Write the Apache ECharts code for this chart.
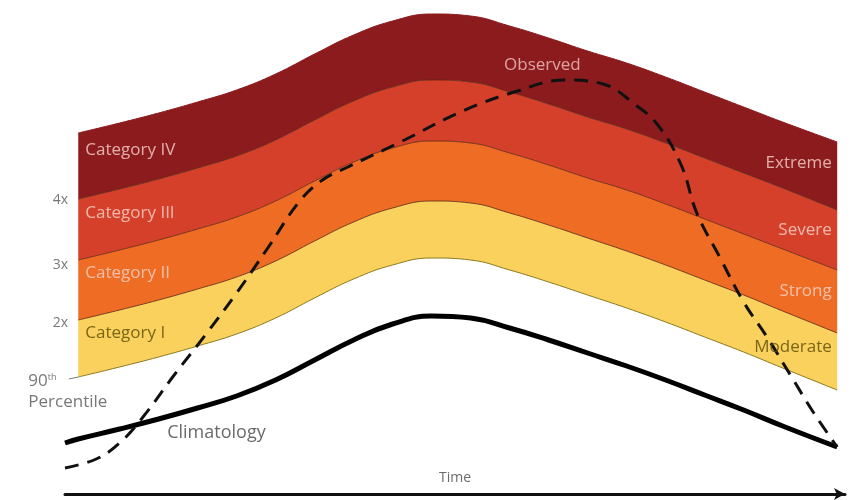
<!DOCTYPE html>
<html><head><meta charset="utf-8">
<script src="https://cdn.jsdelivr.net/npm/echarts@6/dist/echarts.min.js"></script>
<style>html,body{margin:0;padding:0;background:#fff}#c{width:853px;height:500px}</style>
</head><body><div id="c"></div>
<script>
// x: time (days since start), y: temperature (arbitrary units)
const days = [1.7, 7, 12, 17, 22, 27, 32, 37, 42, 47, 52, 57, 62, 67, 72, 77, 82, 87, 92, 99];
const climDays = [0, 1.7, 7, 12, 17, 22, 27, 32, 37, 42, 47, 52, 57, 62, 67, 72, 77, 82, 87, 92, 99];
const climatology = [5.1, 5.5, 6.5, 7.5, 8.6, 9.8, 11.4, 13.4, 15.4, 17.0, 17.8, 17.6, 16.6, 15.4, 14.1, 12.8, 11.4, 9.9, 8.4, 6.8, 4.7];
const p90 = [11.7, 12.7, 13.7, 14.8, 16.0, 17.6, 19.6, 21.5, 22.9, 23.6, 23.4, 22.4, 21.2, 19.9, 18.6, 17.2, 15.7, 14.2, 12.6, 10.4];
const x2  = [17.4, 18.4, 19.4, 20.5, 21.7, 23.3, 25.3, 27.2, 28.6, 29.3, 29.1, 28.1, 26.9, 25.6, 24.3, 22.9, 21.4, 19.9, 18.3, 16.1];
const x3  = [23.4, 24.4, 25.4, 26.5, 27.7, 29.3, 31.3, 33.2, 34.6, 35.3, 35.1, 34.1, 32.9, 31.6, 30.4, 29.0, 27.5, 26.0, 24.5, 22.4];
const x4  = [29.5, 30.5, 31.5, 32.6, 33.8, 35.4, 37.4, 39.3, 40.7, 41.4, 41.2, 40.2, 39.0, 37.7, 36.5, 35.1, 33.6, 32.1, 30.6, 28.4];
const x5  = [36.1, 37.1, 38.1, 39.2, 40.4, 42.0, 44.0, 45.9, 47.3, 48.0, 47.8, 46.8, 45.6, 44.3, 43.1, 41.7, 40.2, 38.7, 37.2, 35.2];
const obsDays = [0, 4, 7, 10, 14, 18, 22, 26, 30, 33, 36, 43, 51, 58, 64, 69, 73, 76, 79, 81, 84, 87, 90, 93, 96, 99];
const observed = [2.6, 3.5, 5.1, 7.7, 11.9, 15.9, 20.1, 24.6, 29.2, 31.4, 32.6, 35.2, 38.3, 40.3, 41.4, 41.0, 39.0, 36.9, 32.9, 28.1, 23.6, 19.2, 15.7, 11.9, 8.1, 4.7];

const leftCategories = ['Category IV', 'Category III', 'Category II', 'Category I'];
const leftCatPos = [[2.6, 34.4], [2.6, 28.1], [2.6, 22.1], [2.6, 16.1]];
const rightCategories = ['Extreme', 'Severe', 'Strong', 'Moderate'];
const rightCatPos = [[98.3, 33.1], [98.3, 26.4], [98.3, 20.3], [98.3, 14.7]];
const thresholdLabels = ['4x', '3x', '2x'];
const thresholdPos = [[0.4, 29.4], [0.4, 22.9], [0.4, 17.1]];

const T0 = Date.UTC(2000, 0, 1);
const DAY = 86400000;
const t = d => T0 + d * DAY;

const C = { dred: '#8c1b1e', red: '#d5402b', orange: '#ee6c23', yellow: '#f9d15c' };
const lightTxt = '#f6d3cb';
const oliveTxt = '#5a4a08';
const font = '"Open Sans", "Noto Sans", sans-serif';

const pairs = (xs, ys) => ys.map((v, i) => [t(xs[i]), v]);
const diff = (a, b) => a.map((v, i) => +(v - b[i]).toFixed(3));

function txt(name, value, pos, color, size) {
  return { name, value: [t(value[0]), value[1]], label: { show: true, formatter: '{b}', position: pos, distance: 0,
    color, fontSize: size, fontFamily: font } };
}

const ann = [];
leftCategories.forEach((s, i) => ann.push(txt(s, leftCatPos[i], 'right', i === 3 ? oliveTxt : lightTxt, 17)));
rightCategories.forEach((s, i) => ann.push(txt(s, rightCatPos[i], 'left', i === 3 ? oliveTxt : lightTxt, 17)));
thresholdLabels.forEach((s, i) => ann.push(txt(s, thresholdPos[i], 'left', '#555', 14)));
ann.push(txt('Observed', [61.2, 42.9], 'inside', '#f0c4c4', 17));
ann.push(txt('Climatology', [13.1, 6.1], 'right', '#444', 18));
ann.push(txt('Time', [50, 1.6], 'inside', '#444', 14));
ann.push({ name: 'p', value: [t(-4.7), 10.2], label: { show: true, position: 'right', distance: 0,
  formatter: '{a|90}{s|th}\n{a|Percentile}',
  rich: { a: { fontSize: 17, color: '#555', fontFamily: font, lineHeight: 21 },
          s: { fontSize: 9, color: '#555', fontFamily: font, padding: [0, 0, 9, 0] } } } });

const bandLine = { width: 1, color: '#5c2410', opacity: 0.8 };
const smooth = 0.45;
function band(values, fill, line) {
  return { type: 'line', stack: 'bands', data: pairs(days, values), smooth, symbol: 'none',
    lineStyle: line, areaStyle: { color: fill, opacity: 1 } };
}

const option = {
  animation: false,
  grid: { left: 65, right: 8, top: 4, bottom: 6 },
  xAxis: { type: 'time', min: t(0), max: t(100), z: 10,
    axisLine: { show: true, symbol: ['none', 'arrow'], symbolSize: [9, 11], lineStyle: { color: '#111', width: 3 } },
    axisTick: { show: false }, axisLabel: { show: false }, splitLine: { show: false } },
  yAxis: { type: 'value', min: 0, max: 49, axisLine: { show: false }, axisTick: { show: false },
    axisLabel: { show: false }, splitLine: { show: false } },
  series: [
    { type: 'line', stack: 'bands', data: pairs(days, p90), smooth, symbol: 'none',
      lineStyle: { width: 1, color: '#8a7a20' } },
    band(diff(x2, p90), C.yellow, bandLine),
    band(diff(x3, x2), C.orange, bandLine),
    band(diff(x4, x3), C.red, bandLine),
    band(diff(x5, x4), C.dred, { width: 1, color: C.dred }),
    { type: 'line', data: [[t(0.5), p90[0] - 0.2], [t(days[0]), p90[0]]], symbol: 'none',
      lineStyle: { width: 1, color: '#777' } },
    { type: 'line', data: pairs(climDays, climatology), smooth, symbol: 'none', z: 4,
      lineStyle: { width: 5, color: '#000', cap: 'butt' } },
    { type: 'line', data: pairs(obsDays, observed), smooth: 0.4, symbol: 'none', z: 5,
      lineStyle: { width: 3, color: '#111', type: [14, 9] } },
    { type: 'scatter', data: ann, symbolSize: 0, clip: false, z: 6, silent: true }
  ]
};
echarts.init(document.getElementById('c')).setOption(option);
</script></body></html>
